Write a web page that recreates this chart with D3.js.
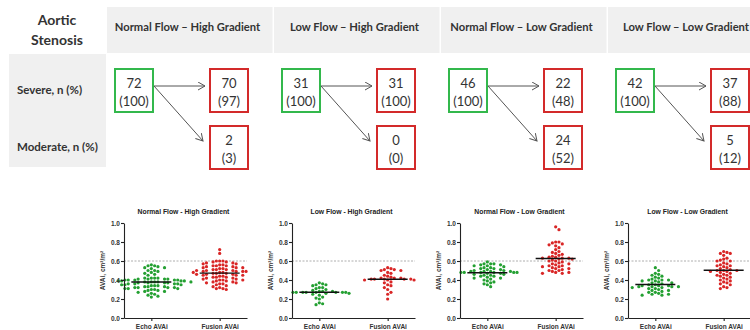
<!DOCTYPE html>
<html>
<head>
<meta charset="utf-8">
<script src="https://cdn.jsdelivr.net/npm/d3@7"></script>
<style>
  body { margin: 0; background: #fff; }
  svg { display: block; }
</style>
</head>
<body>
<div id="chart"></div>
<script>
// table data
const groups = ["Normal Flow – High Gradient", "Low Flow – High Gradient", "Normal Flow – Low Gradient", "Low Flow – Low Gradient"];
const panelTitles = ["Normal Flow - High Gradient", "Low Flow - High Gradient", "Normal Flow - Low Gradient", "Low Flow - Low Gradient"];
const rowLabels = ["Severe, n (%)", "Moderate, n (%)"];
const echoSevere = [72, 31, 46, 42];
const echoSeverePct = [100, 100, 100, 100];
const fusionSevere = [70, 31, 22, 37];
const fusionSeverePct = [97, 100, 48, 88];
const fusionModerate = [2, 0, 24, 5];
const fusionModeratePct = [3, 0, 52, 12];

// scatter data (AVAi, cm2/m2)
const categories = ["Echo AVAi", "Fusion AVAi"];
const yTicks = [0, 0.2, 0.4, 0.6, 0.8, 1.0];
const threshold = 0.6;

const echoNFHG = [0.56,0.55,0.55,0.54,0.53,0.53,0.52,0.50,0.50,0.49,0.48,0.47,0.46,0.45,
  0.42,0.42,0.42,0.42,0.41,0.41,0.41,0.41,0.40,0.40,0.40,0.40,0.40,0.39,0.39,0.39,0.39,
  0.38,0.38,0.38,0.38,0.38,0.37,0.37,0.37,0.37,0.36,0.36,0.36,0.36,0.35,0.35,0.35,
  0.34,0.34,0.34,0.33,0.33,0.33,0.32,0.32,0.32,0.32,0.31,0.31,0.31,0.30,0.30,0.29,0.29,
  0.28,0.28,0.27,0.26,0.25,0.24,0.23,0.22];
const fusionNFHG = [0.72,0.68,0.60,0.60,0.60,0.59,0.59,0.58,0.58,0.57,0.57,0.56,0.56,0.55,0.55,0.55,
  0.54,0.54,0.53,0.53,0.53,0.52,0.52,0.51,0.51,0.51,0.50,0.50,0.50,0.49,0.49,0.49,0.49,
  0.48,0.48,0.48,0.47,0.47,0.47,0.46,0.46,0.46,0.45,0.45,0.45,0.44,0.44,0.43,0.43,0.43,
  0.42,0.42,0.41,0.41,0.40,0.40,0.40,0.39,0.39,0.38,0.38,0.37,0.37,0.36,0.36,
  0.35,0.34,0.33,0.32,0.31,0.31,0.30];
const echoLFHG = [0.37,0.36,0.35,0.35,0.34,0.32,0.32,0.31,0.30,0.29,0.28,0.28,0.28,
  0.27,0.27,0.27,0.27,0.27,0.27,0.27,0.27,0.26,0.26,0.25,0.24,0.22,0.21,0.20,0.16,0.15,0.14];
const fusionLFHG = [0.53,0.52,0.51,0.51,0.50,0.50,0.48,0.47,0.45,0.44,0.43,0.42,0.42,0.42,
  0.41,0.41,0.41,0.41,0.41,0.40,0.40,0.40,0.38,0.37,0.35,0.34,0.32,0.30,0.27,0.25,0.20];
const echoNFLG = [0.59,0.57,0.57,0.57,0.56,0.56,0.55,0.55,0.54,0.53,0.53,0.52,0.52,0.51,0.51,
  0.50,0.50,0.49,0.49,0.49,0.49,0.48,0.48,0.48,0.48,0.48,0.48,0.47,0.47,0.46,0.46,
  0.45,0.45,0.44,0.44,0.43,0.42,0.42,0.41,0.40,0.39,0.38,0.37,0.36,0.35,0.33];
const fusionNFLG = [0.96,0.93,0.80,0.80,0.79,0.78,0.77,0.76,0.74,0.72,0.70,0.69,0.68,0.67,0.66,0.65,
  0.64,0.64,0.63,0.63,0.63,0.62,0.62,0.61,0.60,0.60,0.59,0.58,0.57,0.57,0.56,0.55,0.55,
  0.54,0.54,0.53,0.52,0.52,0.51,0.50,0.50,0.49,0.48,0.48,0.47,0.47];
const echoLFLG = [0.53,0.50,0.47,0.46,0.45,0.44,0.43,0.42,0.41,0.40,0.40,0.40,0.39,0.39,0.38,
  0.37,0.37,0.36,0.35,0.35,0.34,0.34,0.34,0.33,0.33,0.33,0.33,0.32,0.32,0.31,0.31,0.30,
  0.29,0.29,0.28,0.27,0.27,0.26,0.25,0.25,0.24,0.24];
const fusionLFLG = [0.70,0.69,0.68,0.68,0.66,0.63,0.62,0.61,0.60,0.60,0.58,0.57,0.56,0.55,0.55,
  0.54,0.53,0.52,0.51,0.50,0.50,0.50,0.49,0.49,0.48,0.47,0.46,0.45,0.45,0.44,0.43,0.42,
  0.41,0.40,0.39,0.38,0.37,0.36,0.35,0.33,0.32,0.31];

const echoSets = [echoNFHG, echoLFHG, echoNFLG, echoLFLG];
const fusionSets = [fusionNFHG, fusionLFHG, fusionNFLG, fusionLFLG];

const width = 750, height = 330;
const green = "#33b84c", red = "#d32a2a";
const dotGreen = "#24a032", dotRed = "#d92626";
const tableFont = "Lato, 'Open Sans', sans-serif";
const plotFont = "'Liberation Sans', Arial, sans-serif";

const svg = d3.select("#chart").append("svg")
  .attr("width", width)
  .attr("height", height);

svg.append("defs").append("marker")
  .attr("id", "arrow")
  .attr("markerUnits", "userSpaceOnUse")
  .attr("markerWidth", 10).attr("markerHeight", 10)
  .attr("refX", 7).attr("refY", 4)
  .attr("orient", "auto")
  .append("path")
  .attr("d", "M0,0 L7,4 L0,8")
  .attr("fill", "none")
  .attr("stroke", "#555")
  .attr("stroke-width", 1);

// ---------- table ----------
const col = d3.scaleBand().domain(groups).range([107, 775]);

svg.selectAll("rect.head")
  .data(groups)
  .enter().append("rect")
  .attr("class", "head")
  .attr("x", d => col(d))
  .attr("y", 7)
  .attr("width", col.bandwidth() - 1.5)
  .attr("height", 46)
  .attr("fill", "#f0f0f0");

svg.selectAll("text.head")
  .data(groups)
  .enter().append("text")
  .attr("class", "head")
  .attr("x", d => col(d) + col.bandwidth() / 2 - 3)
  .attr("y", 31)
  .attr("text-anchor", "middle")
  .attr("font-family", tableFont)
  .attr("font-weight", "bold")
  .attr("font-size", 11.2)
  .attr("fill", "#333")
  .text(d => d)
  .each(function () {
    // keep the last header inside the picture
    const half = this.getComputedTextLength() / 2;
    const cx = +this.getAttribute("x");
    if (cx + half > width - 1) this.setAttribute("x", width - 1 - half);
  });

svg.append("rect")
  .attr("x", 9).attr("y", 54)
  .attr("width", 97).attr("height", 113)
  .attr("fill", "#f0f0f0");

svg.append("text")
  .attr("x", 57)
  .attr("text-anchor", "middle")
  .attr("font-family", tableFont)
  .attr("font-weight", "bold")
  .attr("font-size", 14)
  .attr("fill", "#333")
  .selectAll("tspan")
  .data(["Aortic", "Stenosis"])
  .enter().append("tspan")
  .attr("x", 57)
  .attr("y", (d, i) => 25 + i * 20)
  .text(d => d);

const rowY = d3.scalePoint().domain(rowLabels).range([90, 147]);

svg.selectAll("text.row")
  .data(rowLabels)
  .enter().append("text")
  .attr("class", "row")
  .attr("x", 17)
  .attr("y", d => rowY(d) + 4)
  .attr("font-family", tableFont)
  .attr("font-weight", "bold")
  .attr("font-size", 11.5)
  .attr("fill", "#333")
  .text(d => d);

const boxW = 38, boxH = 43;
const boxes = [];
groups.forEach((g, i) => {
  const x0 = col(g);
  boxes.push({ x: x0 + 8, y: rowY(rowLabels[0]) - 21, n: echoSevere[i], p: echoSeverePct[i], c: green });
  boxes.push({ x: x0 + 103, y: rowY(rowLabels[0]) - 21, n: fusionSevere[i], p: fusionSeverePct[i], c: red });
  boxes.push({ x: x0 + 103, y: rowY(rowLabels[1]) - 21, n: fusionModerate[i], p: fusionModeratePct[i], c: red });

  // arrows
  const sx = x0 + 8 + boxW + 1, sy = rowY(rowLabels[0]) - 4;
  svg.append("line")
    .attr("x1", sx).attr("y1", sy)
    .attr("x2", x0 + 103 - 5).attr("y2", sy)
    .attr("stroke", "#555").attr("stroke-width", 1)
    .attr("marker-end", "url(#arrow)");
  svg.append("line")
    .attr("x1", sx).attr("y1", sy)
    .attr("x2", x0 + 103 - 7).attr("y2", rowY(rowLabels[1]) - 6)
    .attr("stroke", "#555").attr("stroke-width", 1)
    .attr("marker-end", "url(#arrow)");
});

const boxG = svg.selectAll("g.box")
  .data(boxes)
  .enter().append("g")
  .attr("class", "box")
  .attr("transform", d => `translate(${d.x},${d.y})`);

boxG.append("rect")
  .attr("width", boxW).attr("height", boxH)
  .attr("fill", "#fff")
  .attr("stroke", d => d.c)
  .attr("stroke-width", 2);

boxG.append("text")
  .attr("x", boxW / 2).attr("y", 19)
  .attr("text-anchor", "middle")
  .attr("font-family", tableFont)
  .attr("font-size", 13)
  .attr("fill", "#333")
  .text(d => d.n);

boxG.append("text")
  .attr("x", boxW / 2).attr("y", 37)
  .attr("text-anchor", "middle")
  .attr("font-family", tableFont)
  .attr("font-size", 13)
  .attr("fill", "#333")
  .text(d => `(${d.p})`);

// ---------- scatter panels ----------
const y = d3.scaleLinear().domain([0, 1]).range([318, 223]);
const panelX = d3.scalePoint().domain(panelTitles).range([124, 628]);
const plotW = 123;
const x = d3.scalePoint().domain(categories).range([0, plotW]).padding(0.4);
const r = 1.6, dia = 3.3;

// simple deterministic beeswarm: offsets for each value
function swarm(values) {
  const placed = [];
  const out = [];
  values.slice().sort((a, b) => b - a).forEach(v => {
    const py = y(v);
    let k = 0, off = 0;
    while (true) {
      off = (k === 0) ? 0 : (k % 2 ? 1 : -1) * Math.ceil(k / 2) * dia;
      const hit = placed.some(p => Math.abs(p.py - py) < dia && Math.abs(p.off - off) < dia);
      if (!hit) break;
      k++;
    }
    placed.push({ py, off });
    out.push({ v, off });
  });
  return out;
}

panelTitles.forEach((t, i) => {
  const g = svg.append("g").attr("transform", `translate(${panelX(t)},0)`);

  g.append("text")
    .attr("x", plotW / 2 - 2).attr("y", 214)
    .attr("text-anchor", "middle")
    .attr("font-family", plotFont)
    .attr("font-weight", "bold")
    .attr("font-size", 6.8)
    .attr("fill", "#222")
    .text(t);

  g.append("line")
    .attr("x1", 0).attr("x2", plotW)
    .attr("y1", y(threshold)).attr("y2", y(threshold))
    .attr("stroke", "#999").attr("stroke-width", 0.8)
    .attr("stroke-dasharray", "2,1.5");

  const sets = [echoSets[i], fusionSets[i]];
  const colors = [dotGreen, dotRed];
  categories.forEach((c, j) => {
    const cx = x(c);
    g.append("g").selectAll("circle")
      .data(swarm(sets[j]))
      .enter().append("circle")
      .attr("cx", d => cx + d.off)
      .attr("cy", d => y(d.v))
      .attr("r", r)
      .attr("fill", colors[j]);
    const m = d3.mean(sets[j]);
    g.append("line")
      .attr("x1", cx - 20).attr("x2", cx + 20)
      .attr("y1", y(m)).attr("y2", y(m))
      .attr("stroke", "#111").attr("stroke-width", 1.4);
  });

  const ya = g.append("g")
    .call(d3.axisLeft(y).tickValues(yTicks).tickFormat(d3.format(".1f")).tickSize(3).tickSizeOuter(0));
  const xa = g.append("g")
    .attr("transform", `translate(0,${y(0)})`)
    .call(d3.axisBottom(x).tickSize(3).tickSizeOuter(0));
  [ya, xa].forEach(a => {
    a.selectAll("path, line").attr("stroke", "#222").attr("stroke-width", 1.1);
    a.selectAll("text")
      .attr("font-family", plotFont)
      .attr("font-weight", "bold")
      .attr("font-size", 6.5)
      .attr("fill", "#333");
  });
  ya.selectAll("text").attr("x", -4);
  xa.selectAll("text").attr("y", 6);

  g.append("text")
    .attr("transform", `translate(-19,${y(0.5)}) rotate(-90)`)
    .attr("text-anchor", "middle")
    .attr("font-family", plotFont)
    .attr("font-weight", "bold")
    .attr("font-size", 6.5)
    .attr("fill", "#333")
    .text("AVAi, cm²/m²");
});
</script>
</body>
</html>
